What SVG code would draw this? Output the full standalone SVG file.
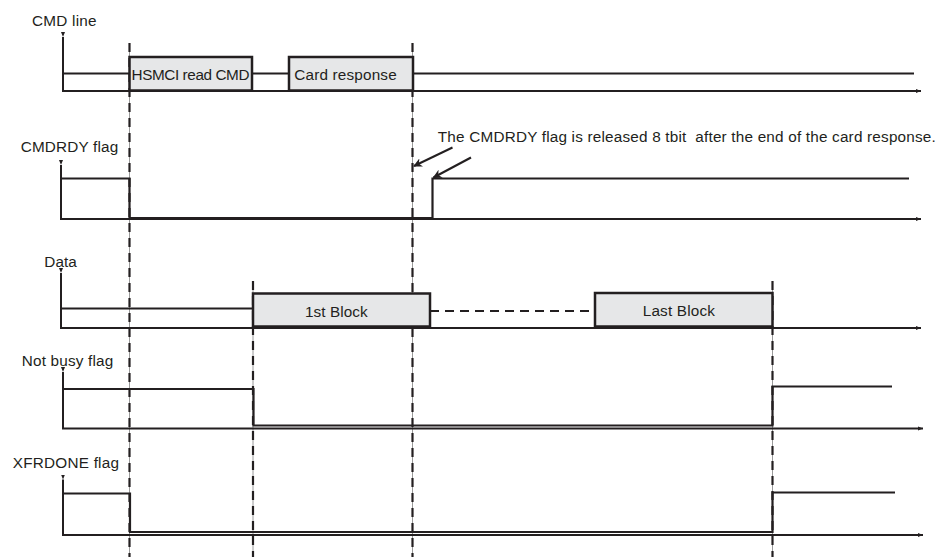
<svg xmlns="http://www.w3.org/2000/svg" width="938" height="557" viewBox="0 0 938 557">
<style>
text{font-family:"Liberation Sans",Arial,sans-serif;font-size:15.3px;fill:#231f20}
.sig{fill:none;stroke:#231f20;stroke-width:2.2}
.ax{fill:none;stroke:#231f20;stroke-width:2}
.box{fill:#e6e7e8;stroke:#231f20;stroke-width:2.5}
.gl{stroke:#9a9a9a;stroke-width:1}
.dash{stroke:#231f20;stroke-width:2.2;stroke-dasharray:9 6}
.ddash{fill:none;stroke:#231f20;stroke-width:2.2;stroke-dasharray:9 6}
.ann{stroke:#231f20;stroke-width:2;marker-end:url(#ah)}
</style>
<defs>
<marker id="ar" viewBox="0 0 10 10" refX="10" refY="5" markerWidth="5" markerHeight="5" markerUnits="userSpaceOnUse" orient="auto">
<path d="M0,1 L10,5 L0,9 z" fill="#231f20"/>
</marker>
<marker id="ah" viewBox="0 0 10 10" refX="9" refY="5" markerWidth="9" markerHeight="9" markerUnits="userSpaceOnUse" orient="auto">
<path d="M0,0 L10,5 L0,10 L3,5 z" fill="#231f20"/>
</marker>
</defs>

<g id="timing-markers">
<line class="gl" x1="129.5" y1="43" x2="129.5" y2="557"/>
<line class="dash" x1="129.5" y1="43" x2="129.5" y2="557"/>
<line class="gl" x1="412.5" y1="43" x2="412.5" y2="557"/>
<line class="dash" x1="412.5" y1="43" x2="412.5" y2="557"/>
<line class="gl" x1="253" y1="281" x2="253" y2="557"/>
<line class="dash" x1="253" y1="281" x2="253" y2="557"/>
<line class="gl" x1="772.5" y1="281" x2="772.5" y2="557"/>
<line class="dash" x1="772.5" y1="281" x2="772.5" y2="557"/>
</g>

<g id="cmd-line">
<text x="32" y="26" textLength="64.5">CMD line</text>
<polyline class="ax" points="63,37 63,91 921,91" marker-start="url(#ar)" marker-end="url(#ar)"/>
<line class="sig" x1="63" y1="73.5" x2="130" y2="73.5"/>
<line class="sig" x1="252" y1="73.5" x2="289" y2="73.5"/>
<line class="sig" x1="413" y1="73.5" x2="914" y2="73.5"/>
<g id="hsmci-read-cmd">
<rect class="box" x="129.5" y="57" width="122.5" height="33.5"/>
<text x="131.5" y="80" textLength="118">HSMCI read CMD</text>
</g>
<g id="card-response">
<rect class="box" x="289" y="57" width="124" height="33.5"/>
<text x="294.3" y="80" textLength="102.4">Card response</text>
</g>
</g>

<g id="cmdrdy-flag">
<text x="20.7" y="152" textLength="97.6">CMDRDY flag</text>
<polyline class="ax" points="61,165 61,219 921,219" marker-start="url(#ar)" marker-end="url(#ar)"/>
<polyline class="sig" points="61,178.5 129.5,178.5 129.5,218 432.5,218 432.5,178.5 909,178.5"/>
</g>

<g id="annotation">
<text x="437.8" y="142" textLength="498" xml:space="preserve">The CMDRDY flag is released 8 tbit  after the end of the card response.</text>
<line class="ann" x1="452.5" y1="147.5" x2="414" y2="166"/>
<line class="ann" x1="471" y1="157.5" x2="433.5" y2="177.5"/>
</g>

<g id="data">
<text x="44.3" y="266.5" textLength="32.4">Data</text>
<polyline class="ax" points="61,273 61,328 921,328" marker-start="url(#ar)" marker-end="url(#ar)"/>
<line class="sig" x1="61" y1="308.5" x2="253" y2="308.5"/>
<line class="ddash" x1="430" y1="311" x2="595" y2="311"/>
<g id="first-block">
<rect class="box" x="253" y="293.5" width="177" height="33"/>
<text x="305" y="316.5" textLength="62.7">1st Block</text>
</g>
<g id="last-block">
<rect class="box" x="595" y="293" width="177.5" height="33.5"/>
<text x="642.7" y="316" textLength="72.3">Last Block</text>
</g>
</g>

<g id="not-busy-flag">
<text x="21.7" y="366" textLength="91.6">Not busy flag</text>
<polyline class="ax" points="63,372 63,428.5 923,428.5" marker-start="url(#ar)" marker-end="url(#ar)"/>
<polyline class="sig" points="63,389 253.5,389 253.5,425.5 772.5,425.5 772.5,386.5 892,386.5"/>
</g>

<g id="xfrdone-flag">
<text x="12.7" y="468" textLength="106.3">XFRDONE flag</text>
<polyline class="ax" points="63,479.5 63,535 923,535" marker-start="url(#ar)" marker-end="url(#ar)"/>
<polyline class="sig" points="63,493.5 130,493.5 130,532 772.5,532 772.5,492.5 895,492.5"/>
</g>
</svg>
